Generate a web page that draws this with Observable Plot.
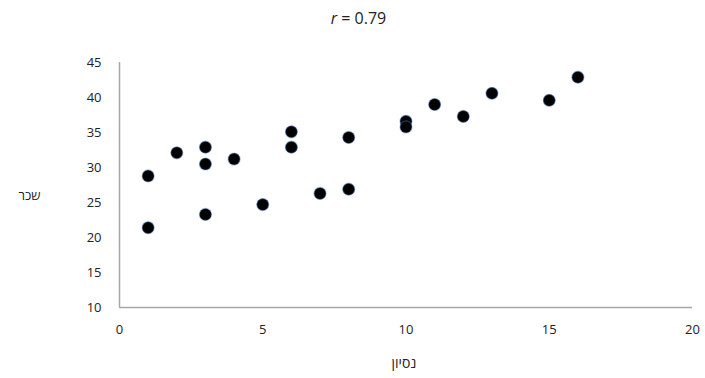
<!DOCTYPE html>
<html>
<head>
<meta charset="utf-8">
<script src="https://cdn.jsdelivr.net/npm/d3@7"></script>
<script src="https://cdn.jsdelivr.net/npm/@observablehq/plot@0.6"></script>
<style>
  body { margin: 0; background: #fff; }
  #title { height: 36px; line-height: 36px; text-align: center; font-family: "Open Sans", sans-serif; font-size: 16px; color: #222; padding-left: 12px; }
  #title i { font-style: italic; }
</style>
</head>
<body>
<div id="title"><i>r</i> = 0.79</div>
<div id="chart"></div>
<script>
const experience = [1, 1, 2, 3, 3, 3, 4, 5, 6, 6, 7, 8, 8, 10, 10, 11, 12, 13, 15, 16];
const salary = [28.8, 21.4, 32.1, 32.9, 30.5, 23.3, 31.2, 24.7, 35.1, 32.9, 26.3, 34.3, 26.9, 36.6, 35.8, 39.0, 37.3, 40.6, 39.6, 42.9];
const xTicks = [0, 5, 10, 15, 20];
const yTicks = [10, 15, 20, 25, 30, 35, 40, 45];
const xLabel = "נסיון";
const yLabel = "שכר";

const data = experience.map((x, i) => ({x, y: salary[i]}));

const chart = Plot.plot({
  width: 705,
  height: 342,
  marginLeft: 119,
  marginRight: 13,
  marginTop: 26,
  marginBottom: 71,
  style: {fontFamily: "Open Sans, sans-serif", fontSize: "13px", color: "#222", background: "#fff"},
  x: {domain: [0, 20], ticks: xTicks, tickSize: 0, tickPadding: 17, label: null},
  y: {domain: [10, 45], ticks: yTicks, tickSize: 0, tickPadding: 18, label: null},
  marks: [
    Plot.ruleX([0], {stroke: "#a6a6a6", strokeWidth: 1.5}),
    Plot.ruleY([10], {stroke: "#a6a6a6", strokeWidth: 1.5}),
    Plot.dot(data, {x: "x", y: "y", r: 6, fill: "#000", stroke: "#4a78b8", strokeWidth: 1.2, strokeOpacity: 0.45}),
    Plot.text([yLabel], {frameAnchor: "left", dx: -90, dy: 11, text: d => d, fontSize: 13, textAnchor: "middle"}),
    Plot.text([xLabel], {frameAnchor: "bottom", dy: 60, dx: -2, text: d => d, fontSize: 14, textAnchor: "middle"})
  ]
});
document.getElementById("chart").appendChild(chart);
</script>
</body>
</html>
